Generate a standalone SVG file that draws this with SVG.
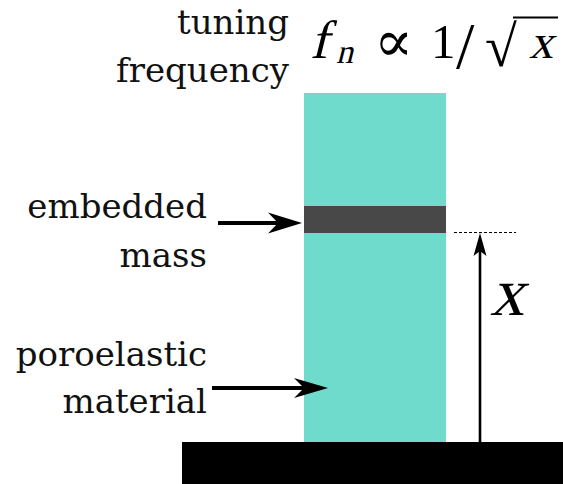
<svg xmlns="http://www.w3.org/2000/svg" width="563" height="484" viewBox="0 0 563 484">
<style>
.lbl{font-family:"DejaVu Serif","Liberation Serif",serif;font-size:34px;fill:#111;text-anchor:end}
.m{font-family:"Liberation Serif","DejaVu Serif",serif;fill:#000}
.s{font-family:"DejaVu Serif","DejaVu Sans",serif;fill:#000}
.head{fill:#000;stroke:none}
</style>
<rect width="563" height="484" fill="#fff"/>
<g id="base"><rect x="182" y="442" width="381" height="42" fill="#000"/></g>
<g id="material"><rect x="304" y="93" width="142" height="349" fill="#6edbcd"/></g>
<g id="mass"><rect x="304" y="206" width="142" height="27" fill="#484848"/></g>
<g id="labels">
<text class="lbl" x="289" y="34">tuning</text>
<text class="lbl" x="289" y="82">frequency</text>
<text class="lbl" x="207" y="218">embedded</text>
<text class="lbl" x="207" y="267">mass</text>
<text class="lbl" x="207" y="366">poroelastic</text>
<text class="lbl" x="207" y="413">material</text>
</g>
<g id="formula">
<text class="m" transform="translate(310,58) skewX(-14)" font-size="54">f</text>
<text class="m" transform="translate(336,63) skewX(-14)" font-size="34">n</text>
<text class="s" x="374" y="61" font-size="58">∝</text>
<text class="m" x="431" y="58" font-size="49">1</text>
<text class="m" x="456" y="68" font-size="66">/</text>
<text class="m" x="485" y="66" font-size="58">√</text>
<line x1="513" y1="17.5" x2="558" y2="17.5" stroke="#000" stroke-width="2.2"/>
<text class="m" transform="translate(529,58) skewX(-14)" font-size="48">x</text>
</g>
<g id="connectors">
<line x1="218" y1="223" x2="292" y2="223" stroke="#000" stroke-width="4"/>
<path class="head" d="M302,223 L268,212.5 L278,223 L268,233.5 Z"/>
<line x1="212" y1="388" x2="318" y2="388" stroke="#000" stroke-width="4"/>
<path class="head" d="M328,388 L294,378 L304,388 L294,398 Z"/>
<line x1="454" y1="232.5" x2="516" y2="232.5" stroke="#000" stroke-width="1.2" stroke-dasharray="3,2"/>
<line x1="480" y1="442" x2="480" y2="250" stroke="#000" stroke-width="2.6"/>
<path class="head" d="M480,233 L473.5,256 L480,251 L486.5,256 Z"/>
</g>
<g id="xlabel"><text class="m" transform="translate(490,315) skewX(-14)" font-size="68">x</text></g>
</svg>
